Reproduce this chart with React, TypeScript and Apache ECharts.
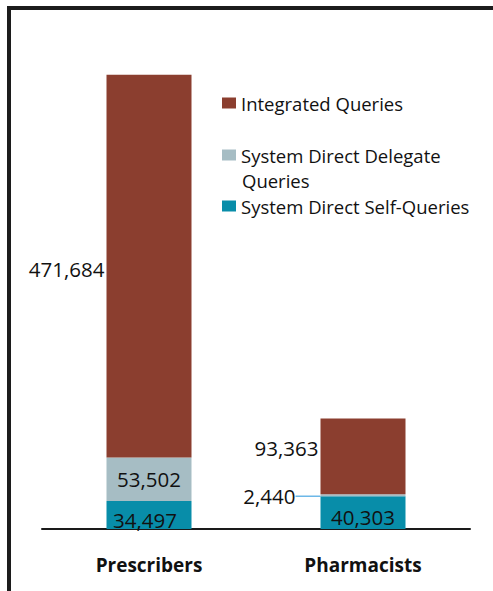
import React, { useEffect, useRef } from "react";
import * as echarts from "echarts";

const categories = ["Prescribers", "Pharmacists"];
const integratedQueries = [471684, 93363];
const delegateQueries = [53502, 2440];
const selfQueries = [34497, 40303];
const seriesNames = ["Integrated Queries", "System Direct Delegate Queries", "System Direct Self-Queries"];
const colors = ["#8B3E2F", "#A6BDC4", "#088DA9"];

const FONT = "'Open Sans', 'Liberation Sans', sans-serif";
const fmt = (p: any) => Number(p.value).toLocaleString("en-US");

export default function App() {
  const ref = useRef<HTMLDivElement>(null);
  useEffect(() => {
    if (!ref.current) return;
    const chart = echarts.init(ref.current, undefined, { renderer: "svg" });
    const labelBase = { show: true, formatter: fmt, fontFamily: FONT, fontSize: 20.5, color: "#111" };
    const legendFont = 18.5;
    chart.setOption({
      animation: false,
      backgroundColor: "#fff",
      grid: { left: 42, right: 23, top: 42, bottom: 62 },
      xAxis: {
        type: "category",
        data: categories,
        axisLine: { lineStyle: { color: "#1a1a1a", width: 2 } },
        axisTick: { show: false },
        axisLabel: { fontFamily: FONT, fontWeight: "bold", fontSize: 19, color: "#111", margin: 26 },
      },
      yAxis: { type: "value", min: 0, max: 600000, show: false },
      legend: [
        { left: 222, top: 92, padding: 0, data: [seriesNames[0]] },
        { left: 222, top: 144, padding: 0, data: [seriesNames[1]], formatter: () => "System Direct Delegate" },
        { left: 222, top: 195, padding: 0, data: [seriesNames[2]] },
      ].map((l) => ({
        ...l,
        icon: "rect",
        itemWidth: 14,
        itemHeight: 11,
        selectedMode: false,
        textStyle: { fontFamily: FONT, fontSize: legendFont, color: "#111", lineHeight: 22 },
      })),
      graphic: [
        { type: "rect", shape: { x: 7, y: 6, width: 4, height: 600 }, style: { fill: "#1c1c1c" } },
        { type: "rect", shape: { x: 7, y: 6, width: 500, height: 4 }, style: { fill: "#1c1c1c" } },
        {
          type: "text",
          left: 242,
          top: 169,
          style: { text: "Queries", fontFamily: FONT, fontSize: legendFont, lineHeight: 22, fill: "#111" },
        },
      ],
      series: [
        {
          name: seriesNames[2],
          type: "bar",
          stack: "total",
          barWidth: 85,
          itemStyle: { color: colors[2] },
          data: selfQueries.map((v, i) => ({
            value: v,
            label: { ...labelBase, position: "inside", offset: i === 0 ? [-4, 5] : [0, 4] },
          })),
        },
        {
          name: seriesNames[1],
          type: "bar",
          stack: "total",
          barWidth: 85,
          itemStyle: { color: colors[1] },
          data: delegateQueries.map((v, i) => ({
            value: v,
            label: { ...labelBase, position: "inside", offset: i === 0 ? [-7, 0] : [0, 0] },
            labelLine: { show: i === 1, smooth: 0.3, lineStyle: { color: "#6DB8E8", width: 1.5 } },
          })),
          labelLayout: (params: any) => {
            if (params.dataIndex !== 1) return {};
            return {
              x: params.rect.x - 25,
              y: params.rect.y + params.rect.height / 2 + 1,
              align: "right",
              verticalAlign: "middle",
            };
          },
        },
        {
          name: seriesNames[0],
          type: "bar",
          stack: "total",
          barWidth: 85,
          itemStyle: { color: colors[0] },
          data: integratedQueries.map((v, i) => ({
            value: v,
            label: { ...labelBase, position: "left", distance: 2, offset: i === 0 ? [0, 3] : [0, -8] },
          })),
        },
      ],
    });
    return () => chart.dispose();
  }, []);
  return <div ref={ref} style={{ position: "fixed", left: 0, top: 0, width: 493, height: 591 }} />;
}
